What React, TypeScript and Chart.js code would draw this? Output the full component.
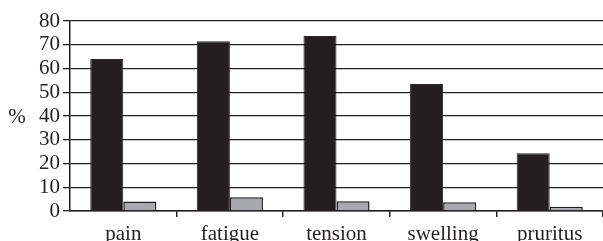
import React, { useEffect, useRef } from "react";
import { Chart, registerables } from "chart.js";

Chart.register(...registerables);

const categories = ["pain", "fatigue", "tension", "swelling", "pruritus"];
const seriesA = [64, 71.5, 73.7, 53.5, 24.3];
const seriesB = [4, 5.8, 4.1, 3.7, 1.8];
const yTicks = [0, 10, 20, 30, 40, 50, 60, 70, 80];
const yTitle = "%";

const INK = "#231f20";
const FONT = "'Liberation Serif', 'Times New Roman', serif";

export default function App() {
  const ref = useRef<HTMLCanvasElement | null>(null);

  useEffect(() => {
    document.body.style.margin = "0";
    const canvas = ref.current;
    if (!canvas) return;

    const titlePlugin = {
      id: "yTitlePlugin",
      afterDraw(chart: any) {
        const { ctx, scales } = chart;
        const y = scales.y;
        ctx.save();
        ctx.font = `21px ${FONT}`;
        ctx.fillStyle = INK;
        ctx.textAlign = "center";
        ctx.textBaseline = "middle";
        ctx.fillText(yTitle, 17, y.getPixelForValue(40) + 1);
        ctx.restore();
      },
    };

    const chart = new Chart(canvas, {
      type: "bar",
      data: {
        labels: categories,
        datasets: [
          {
            data: seriesA,
            backgroundColor: INK,
            borderColor: "#2b2728",
            borderWidth: 1,
            categoryPercentage: 0.62,
            barPercentage: 1,
          },
          {
            data: seriesB,
            backgroundColor: "#a7a9ac",
            borderColor: INK,
            borderWidth: 1.5,
            categoryPercentage: 0.62,
            barPercentage: 1,
          },
        ],
      },
      options: {
        animation: false,
        responsive: false,
        maintainAspectRatio: false,
        layout: { padding: { top: 21, right: 0, left: 0, bottom: 0 } },
        plugins: {
          legend: { display: false },
          tooltip: { enabled: false },
        },
        scales: {
          x: {
            offset: true,
            grid: {
              display: true,
              offset: true,
              drawOnChartArea: false,
              drawTicks: true,
              tickLength: 6,
              lineWidth: 1.5,
              color: (ctx: any) =>
                ctx.index === 0 || ctx.index === categories.length
                  ? "rgba(0,0,0,0)"
                  : INK,
            },
            border: { display: true, color: INK, width: 1.5 },
            ticks: {
              color: INK,
              font: { family: FONT, size: 21 },
              padding: 5,
              maxRotation: 0,
              autoSkip: false,
            },
            afterFit: (scale: any) => {
              scale.height = 30;
            },
          },
          y: {
            min: 0,
            max: 80,
            afterBuildTicks: (scale: any) => {
              scale.ticks = yTicks.map((v) => ({ value: v }));
            },
            grid: {
              color: INK,
              lineWidth: 1.3,
              tickLength: 7,
              drawTicks: true,
            },
            border: { display: true, color: INK, width: 1.5 },
            ticks: {
              color: INK,
              font: { family: FONT, size: 21 },
              padding: 3,
              autoSkip: false,
            },
            afterFit: (scale: any) => {
              scale.width = 70;
            },
          },
        },
      },
      plugins: [titlePlugin],
    });

    return () => chart.destroy();
  }, []);

  return (
    <div style={{ width: 603, height: 241, position: "relative" }}>
      <canvas ref={ref} width={603} height={241} style={{ display: "block" }} />
    </div>
  );
}
